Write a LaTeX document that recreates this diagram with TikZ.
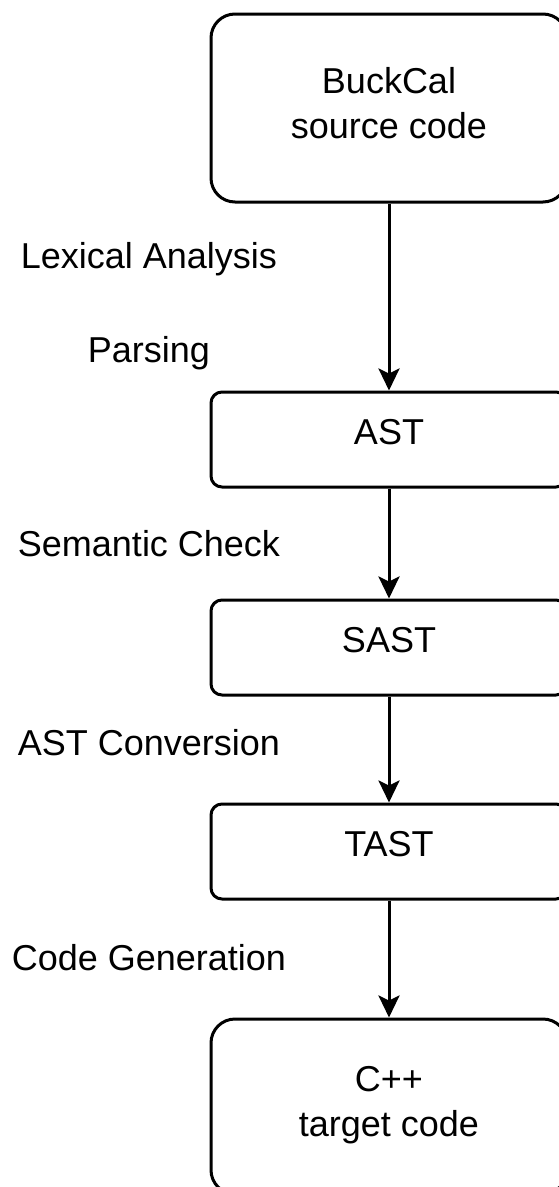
\documentclass[tikz,border=0pt]{standalone}
\usepackage{fontspec}
\setmainfont{Liberation Sans}
\usetikzlibrary{arrows.meta}

\begin{document}
\begin{tikzpicture}[x=1pt, y=-1pt,
  every node/.style = {font=\fontsize{36}{45}\selectfont},
  stage/.style = {shape=rectangle, draw, line width=3pt, align=center,
    minimum width=356pt, inner sep=0pt},
  small/.style = {stage, rounded corners=11pt, minimum height=95pt,
    text height=26pt, text depth=16pt},
  big/.style = {stage, rounded corners=24pt, text depth=10pt},
  pass/.style = {anchor=base},
  flow/.style = {-{Stealth[length=22pt, width=21pt, inset=5pt]}, line width=3pt}]
  \useasboundingbox (0,0) rectangle (558,1187);
  \node[big, minimum height=188pt] (src) at (389,108) {BuckCal\\source code};
  \node[small] (ast) at (389,439.5) {AST};
  \node[small] (sast) at (389,647.5) {SAST};
  \node[small] (tast) at (389,851.5) {TAST};
  \node[big, minimum height=175pt] (cpp) at (389,1106.5) {C++\\target code};
  \node[pass] (lex) at (149,268) {Lexical Analysis};
  \node[pass] (parse) at (149,362) {Parsing};
  \node[pass] (sem) at (149,556) {Semantic Check};
  \node[pass] (conv) at (149,755) {AST Conversion};
  \node[pass] (gen) at (149,970) {Code Generation};
  \draw[flow] (src) -- (ast);
  \draw[flow] (ast) -- (sast);
  \draw[flow] (sast) -- (tast);
  \draw[flow] (tast) -- (cpp);
\end{tikzpicture}
\end{document}
